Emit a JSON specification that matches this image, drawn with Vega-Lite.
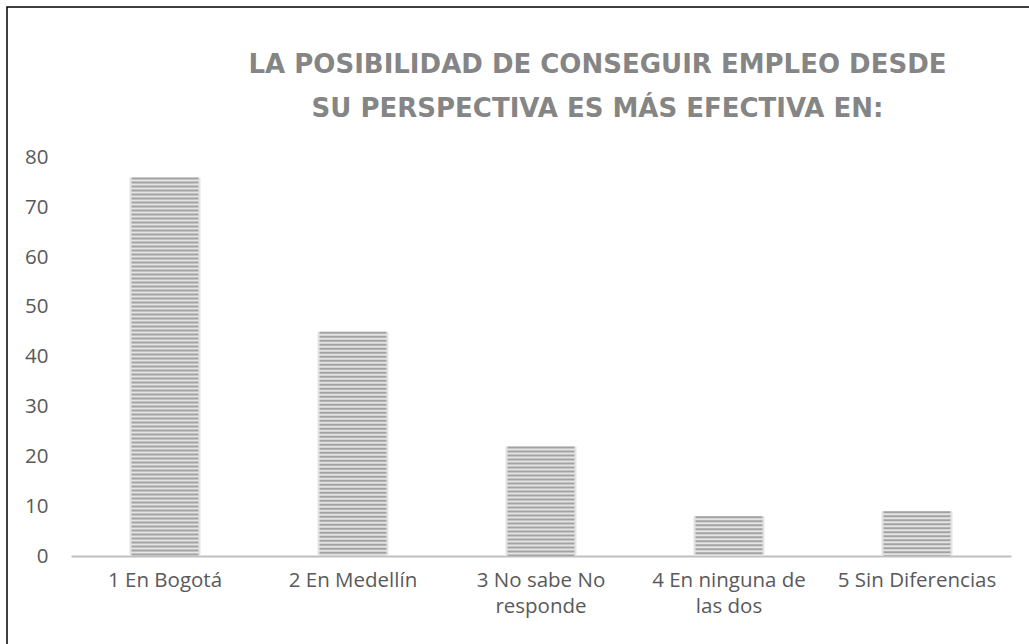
{
  "$schema": "https://vega.github.io/schema/vega-lite/v6.json",
  "width": 1025,
  "height": 640,
  "autosize": {"type": "none"},
  "padding": {"left": 7, "top": 7, "right": 0, "bottom": 0},
  "background": "white",
  "config": {
    "view": {"stroke": "black", "strokeWidth": 1.5},
    "axis": {"labelFont": "Open Sans", "labelFontSize": 20.5, "labelColor": "#595959", "grid": false, "ticks": false, "title": null}
  },
  "title": {
    "text": ["LA POSIBILIDAD DE CONSEGUIR EMPLEO DESDE", "SU PERSPECTIVA ES MÁS EFECTIVA EN:"],
    "anchor": "middle",
    "frame": "group",
    "dx": 78,
    "offset": -115,
    "baseline": "top",
    "font": "DejaVu Sans",
    "fontSize": 26,
    "fontWeight": "bold",
    "color": "#858585",
    "lineHeight": 44
  },
  "data": {
    "values": [
      {"cat": "1 En Bogotá", "val": 76},
      {"cat": "2 En Medellín", "val": 45},
      {"cat": "3 No sabe No responde", "val": 22},
      {"cat": "4 En ninguna de las dos", "val": 8},
      {"cat": "5 Sin Diferencias", "val": 9}
    ]
  },
  "encoding": {
    "x": {
      "field": "cat",
      "type": "nominal",
      "sort": null,
      "scale": {"range": [64, 1004], "paddingInner": 0.622, "paddingOuter": 0.311},
      "axis": {
        "orient": "bottom",
        "offset": -91,
        "domainColor": "#bfbfbf",
        "domainWidth": 2,
        "labelAngle": 0,
        "labelPadding": 14,
        "labelBaseline": "top",
        "labelLineHeight": 26,
        "labelExpr": "datum.label == '3 No sabe No responde' ? ['3 No sabe No', 'responde'] : datum.label == '4 En ninguna de las dos' ? ['4 En ninguna de', 'las dos'] : datum.label"
      }
    },
    "y": {
      "field": "val",
      "type": "quantitative",
      "scale": {"domain": [0, 80], "range": [549, 150.5], "nice": false},
      "axis": {"orient": "left", "offset": -41, "labelPadding": 0, "domain": false, "values": [0, 10, 20, 30, 40, 50, 60, 70, 80]}
    }
  },
  "layer": [
    {"mark": {"type": "bar", "fill": "#e4e4e4"}},
    {
      "mark": {"type": "rule", "color": "#a3a3a3", "strokeWidth": 67, "strokeDash": [2, 2]},
      "encoding": {"y2": {"datum": 0}}
    }
  ]
}
